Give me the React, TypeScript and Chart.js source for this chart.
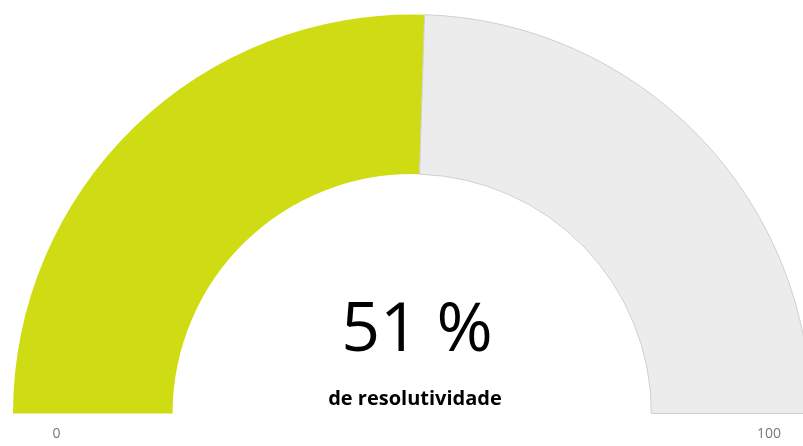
import React, { useEffect, useRef } from "react";
import { Chart, registerables } from "chart.js";

Chart.register(...registerables);

const categories = ["Resolutividade", "Restante"];
const values = [51, 49];
const minLabel = "0";
const maxLabel = "100";
const valueText = "51 %";
const subtitle = "de resolutividade";

export default function App() {
  const ref = useRef<HTMLCanvasElement | null>(null);

  useEffect(() => {
    if (!ref.current) return;
    const chart = new Chart(ref.current, {
      type: "doughnut",
      data: {
        labels: categories,
        datasets: [
          {
            data: values,
            backgroundColor: ["#d0dc13", "#ececec"],
            borderColor: ["#d0dc13", "#cfcfcf"],
            borderWidth: [0, 1],
          },
        ],
      },
      options: {
        responsive: false,
        animation: false,
        rotation: -90,
        circumference: 180,
        cutout: "60%",
        layout: { padding: { left: 12, right: 12, top: 14, bottom: 32 } },
        plugins: {
          legend: { display: false },
          tooltip: { enabled: false },
        },
      },
    });
    return () => chart.destroy();
  }, []);

  const font = "'Open Sans', 'Noto Sans', sans-serif";
  return (
    <div
      style={{
        position: "fixed",
        left: 0,
        top: 0,
        width: 803,
        height: 446,
        overflow: "hidden",
        background: "#fff",
        fontFamily: font,
      }}
    >
      <canvas ref={ref} width={824} height={446} style={{ position: "absolute", left: 0, top: 0 }} />
      <div
        style={{
          position: "absolute",
          left: 417,
          top: 291,
          transform: "translateX(-50%)",
          fontSize: 68,
          lineHeight: "68px",
          color: "#000",
          whiteSpace: "nowrap",
        }}
      >
        {valueText}
      </div>
      <div
        style={{
          position: "absolute",
          left: 415,
          top: 388,
          transform: "translateX(-50%)",
          fontSize: 20,
          lineHeight: "20px",
          fontWeight: 700,
          color: "#000",
          whiteSpace: "nowrap",
        }}
      >
        {subtitle}
      </div>
      <div
        style={{
          position: "absolute",
          left: 56.5,
          top: 425.5,
          transform: "translateX(-50%)",
          fontSize: 14,
          lineHeight: "14px",
          color: "#777",
          whiteSpace: "nowrap",
        }}
      >
        {minLabel}
      </div>
      <div
        style={{
          position: "absolute",
          left: 769,
          top: 425.5,
          transform: "translateX(-50%)",
          fontSize: 14,
          lineHeight: "14px",
          color: "#777",
          whiteSpace: "nowrap",
        }}
      >
        {maxLabel}
      </div>
    </div>
  );
}
